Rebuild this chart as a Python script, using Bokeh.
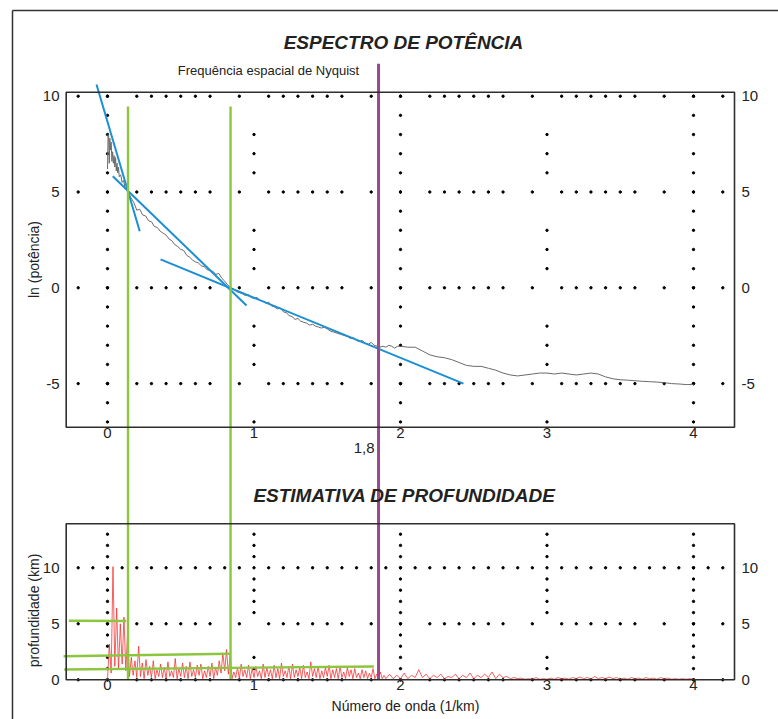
import numpy as np
from bokeh.plotting import figure
from bokeh.models import Range1d
from bokeh.core.properties import value
from bokeh.embed import file_html
from bokeh.resources import INLINE

# ---------------- data ----------------
# power spectrum: wavenumber (1/km) and ln(power)
spec_k_start = [0.0, 0.004, 0.008, 0.012, 0.016, 0.02, 0.025, 0.03, 0.035, 0.04,
                0.045, 0.05, 0.055, 0.06, 0.065, 0.07, 0.075, 0.08, 0.09, 0.10,
                0.11, 0.12, 0.13]
spec_ln_start = [6.2, 8.0, 7.9, 6.5, 7.8, 7.2, 7.6, 6.6, 7.1, 6.5,
                 6.9, 6.3, 6.8, 6.1, 6.5, 6.0, 6.3, 5.8, 5.9, 5.5,
                 5.6, 5.2, 5.2]
# k = 0.14 ... 2.00 every 0.02
spec_ln_mid = [5.00, 4.70, 4.45, 4.05, 4.10, 3.80, 3.75, 3.50, 3.45, 3.20,
               3.15, 2.95, 2.85, 2.75, 2.55, 2.45, 2.25, 2.15, 2.00, 1.95,
               1.70, 1.60, 1.45, 1.35, 1.30, 1.15, 1.10, 0.95, 0.90, 0.85,
               0.70, 0.75, 0.50, 0.35, 0.15, 0.00, -0.05, -0.20, -0.25, -0.30,
               -0.40, -0.35, -0.50, -0.55, -0.50, -0.65, -0.70, -0.80, -0.75, -0.95,
               -1.00, -1.10, -1.05, -1.25, -1.30, -1.45, -1.50, -1.65, -1.60, -1.75,
               -1.80, -1.85, -1.95, -1.90, -2.00, -2.05, -2.10, -2.05, -2.15, -2.25,
               -2.30, -2.35, -2.40, -2.45, -2.50, -2.55, -2.65, -2.60, -2.75, -2.80,
               -2.75, -2.90, -2.95, -2.85, -3.00, -3.05, -3.10, -3.05, -3.10, -3.00,
               -3.05, -3.15, -3.05, -3.05]
# k = 2.05 ... 4.00 every 0.05
spec_ln_end = [-3.10, -3.10, -3.30, -3.50, -3.60, -3.65, -3.75, -3.90, -4.05, -4.10,
               -4.10, -4.20, -4.30, -4.45, -4.55, -4.60, -4.55, -4.50, -4.45, -4.45,
               -4.50, -4.45, -4.50, -4.55, -4.50, -4.45, -4.50, -4.65, -4.75, -4.80,
               -4.82, -4.85, -4.88, -4.90, -4.92, -4.95, -5.00, -5.02, -5.05, -5.05]

# depth estimate (km): k = 0 ... 1.8875 every 0.0125
depth_a = [0.0, 3.2, 0.6, 10.1, 1.2, 6.4, 0.9, 5.0, 1.4, 5.6,
           0.8, 4.2, 0.3, 2.0, 0.4, 1.7, 0.2, 3.0, 0.3, 1.5,
           0.1, 1.8, 0.4, 1.2, 0.2, 1.7, 0.1, 0.9, 0.3, 1.4,
           0.2, 1.1, 0.1, 1.6, 0.3, 0.8, 0.2, 1.9, 0.1, 1.0,
           0.3, 1.5, 0.2, 1.2, 0.1, 1.6, 0.3, 0.9, 0.2, 1.3,
           0.4, 1.4, 0.1, 0.8, 0.2, 1.2, 0.3, 1.5, 0.1, 1.1,
           0.4, 1.7, 0.6, 2.4, 0.8, 2.7, 0.5, 2.3, 0.1, 0.7,
           0.2, 1.1, 0.1, 1.4, 0.3, 0.9, 0.2, 1.3, 0.1, 1.0,
           0.2, 1.2, 0.3, 0.8, 0.1, 1.4, 0.2, 1.1, 0.3, 0.9,
           0.1, 1.3, 0.2, 1.0, 0.1, 1.5, 0.3, 0.8, 0.2, 1.2,
           0.1, 1.4, 0.2, 0.9, 0.3, 1.1, 0.1, 1.3, 0.2, 0.7,
           0.1, 1.6, 0.3, 1.0, 0.2, 1.2, 0.1, 0.8, 0.2, 1.1,
           0.3, 1.3, 0.1, 0.9, 0.2, 1.0, 0.1, 1.2, 0.2, 0.7,
           0.1, 1.1, 0.3, 0.9, 0.1, 1.0, 0.2, 0.6, 0.1, 0.9,
           0.2, 0.8, 0.1, 0.6, 0.2, 1.0, 0.1, 0.5, 0.2, 0.7,
           0.1, 0.4]
# depth estimate (km): k = 1.9 ... 4.0 every 0.025
depth_b = [0.1, 0.5, 0.1, 0.4, 0.1, 0.6, 0.1, 0.4, 0.2, 0.9,
           0.2, 0.5, 0.1, 0.4, 0.2, 0.5, 0.1, 0.3, 0.2, 0.5,
           0.1, 0.4, 0.2, 0.6, 0.1, 0.4, 0.2, 0.5, 0.2, 0.7,
           0.1, 0.5, 0.2, 0.3, 0.1, 0.2, 0.1, 0.15, 0.05, 0.1,
           0.05, 0.2, 0.05, 0.1, 0.05, 0.15, 0.05, 0.2, 0.1, 0.15,
           0.05, 0.2, 0.1, 0.25, 0.1, 0.2, 0.05, 0.3, 0.1, 0.2,
           0.1, 0.25, 0.1, 0.2, 0.05, 0.15, 0.05, 0.2, 0.1, 0.15,
           0.05, 0.2, 0.1, 0.15, 0.05, 0.2, 0.1, 0.15, 0.05, 0.1,
           0.05, 0.1, 0.05, 0.1, 0.05]

# straight-line fits on the spectrum (start / end points)
fit_k0 = [-0.075, 0.036, 0.362]
fit_ln0 = [10.61, 5.82, 1.48]
fit_k1 = [0.22, 0.949, 2.43]
fit_ln1 = [2.95, -0.92, -5.0]

# break points of the fits (green verticals)
cut_k = [0.14, 0.84]
cut_ln_top = 9.46

# estimated depths per segment (green horizontals)
est_k0 = [-0.264, -0.30, -0.295]
est_d0 = [5.27, 2.10, 0.92]
est_k1 = [0.128, 0.835, 1.818]
est_d1 = [5.25, 2.33, 1.19]

nyquist_k = 1.85
nyquist_label = "1,8"
nyquist_top = 11.7

x_ticks = [0, 1, 2, 3, 4]
ln_ticks = [10, 5, 0, -5]
depth_ticks = [10, 5, 0]

title_top = "ESPECTRO DE POTÊNCIA"
title_bottom = "ESTIMATIVA DE PROFUNDIDADE"
nyquist_text = "Frequência espacial de Nyquist"
ylab_top = "ln (potência)"
ylab_bottom = "profundidade (km)"
xlab = "Número de onda (1/km)"

# ---------------- layout (picture pixels -> data) ----------------
W, H, OFF = 778, 719, 0
PX0, PXU = 107.0, 146.5        # picture x of k=0, px per 1/km
PYL0, PYLU = 287.3, 19.16      # picture y of ln=0, px per unit
PYD0, PYDU = 679.3, 11.2       # picture y of depth=0, px per km


def kx(px):
    return (px - PX0) / PXU


def ly(py):
    return (PYL0 - py) / PYLU


def dy(py):
    return (PYD0 - py) / PYDU


def d2l(d):
    return ly(PYD0 - d * PYDU)


FONT = value("Liberation Sans")

p = figure(width=W, height=H, output_backend="svg", toolbar_location=None,
           x_range=Range1d(kx(OFF), kx(OFF + W)),
           y_range=Range1d(ly(OFF + H), ly(OFF)),
           x_axis_type=None, y_axis_type=None, min_border=0,
           outline_line_color=None, background_fill_color="white",
           border_fill_color="white")
p.extra_y_ranges = {"depth": Range1d(dy(OFF + H), dy(OFF))}

# outer border (top and left edges visible)
p.segment(x0=[kx(12), kx(12)], y0=[ly(10), ly(10)],
          x1=[kx(OFF + W + 5), kx(12)], y1=[ly(10), ly(OFF + H + 5)],
          line_color="#333333", line_width=1.5)

# ---- dotted grid (dot pattern of the original dotted lines) ----
row_all = np.round(np.arange(-0.2, 4.21, 0.1), 2)
row_gap = {-0.1, 0.1, 0.8, 1.0, 1.7, 1.9, 2.1, 2.8, 3.0, 3.7, 3.9, 4.1}
row_x = [v for v in row_all if round(float(v), 2) not in row_gap]
gx, gy = [], []
for t in ln_ticks:
    gx += list(row_x)
    gy += [t] * len(row_x)
for t in x_ticks:
    ys = list(range(-7, 11)) if t % 2 == 0 else [8, 7, 6, 3, 2, 1, -2, -3, -4, -7]
    gx += [t] * len(ys)
    gy += ys
p.scatter(gx, gy, size=2.4, color="black", marker="circle")

bx, by = [], []
for t in depth_ticks:
    xs = list(row_all) if t == 10 else list(row_x)
    bx += xs
    by += [t] * len(xs)
for t in x_ticks:
    ys = list(range(0, 14)) if t % 2 == 0 else [13, 12, 11, 9, 8, 7, 6, 2, 1]
    bx += [t] * len(ys)
    by += ys
p.scatter(bx, by, size=2.4, color="black", marker="circle", y_range_name="depth")

# ---- spectrum ----
spec_k = (spec_k_start
          + list(np.round(0.14 + 0.02 * np.arange(len(spec_ln_mid)), 3))
          + list(np.round(2.05 + 0.05 * np.arange(len(spec_ln_end)), 3)))
spec_ln = spec_ln_start + spec_ln_mid + spec_ln_end
p.line(spec_k, spec_ln, line_color="#6a6a6a", line_width=1)

# ---- depth series ----
depth_k = (list(np.round(0.0125 * np.arange(len(depth_a)), 4))
           + list(np.round(1.9 + 0.025 * np.arange(len(depth_b)), 4)))
depth_v = depth_a + depth_b
p.line(depth_k, depth_v, line_color="#f52a2a", line_alpha=0.75, line_width=1,
       y_range_name="depth")

# ---- fits ----
p.segment(x0=fit_k0, y0=fit_ln0, x1=fit_k1, y1=fit_ln1,
          line_color="#1b8fd4", line_width=2)

# ---- green break lines ----
p.segment(x0=cut_k, y0=[cut_ln_top] * len(cut_k), x1=cut_k,
          y1=[d2l(0)] * len(cut_k), line_color="#8cc63e", line_width=2.4)
p.segment(x0=est_k0, y0=est_d0, x1=est_k1, y1=est_d1,
          line_color="#8cc63e", line_width=2.4, y_range_name="depth")

# ---- Nyquist line ----
p.segment(x0=[nyquist_k], y0=[nyquist_top], x1=[nyquist_k], y1=[d2l(0)],
          line_color="#9a4a8c", line_width=3)

# ---- frames ----
p.quad(left=[kx(65.7)], right=[kx(734)], bottom=[ly(426.7)], top=[ly(91.7)],
       fill_color=None, line_color="#2e2e2e", line_width=1.6)
p.quad(left=[kx(65.7)], right=[kx(734)], bottom=[0], top=[dy(523.3)],
       fill_color=None, line_color="#2e2e2e", line_width=1.6,
       y_range_name="depth")

# ---- texts ----
TC = "#222222"
def txt(x, y, s, size="14px", align="center", base="middle", style="normal",
        angle=0, rng="default"):
    p.text(x=x, y=y, text=s, text_font=FONT, text_font_size=value(size),
           text_align=align, text_baseline=base, text_font_style=style,
           text_color=TC, angle=angle, y_range_name=rng)

txt([kx(403)], [ly(42)], [title_top], size="19px", style="bold italic")
txt([kx(404)], [ly(495)], [title_bottom], size="19px", style="bold italic")
txt([kx(268)], [ly(70)], [nyquist_text], size="13px")

lab = [str(t) for t in ln_ticks]
txt([kx(59)] * len(ln_ticks), ln_ticks, lab, size="15px", align="right")
txt([kx(741)] * len(ln_ticks), ln_ticks, lab, size="15px", align="left")
dlab = [str(t) for t in depth_ticks]
txt([kx(59)] * len(depth_ticks), depth_ticks, dlab, size="15px", align="right", rng="depth")
txt([kx(741)] * len(depth_ticks), depth_ticks, dlab, size="15px", align="left", rng="depth")

xlab_s = [str(t) for t in x_ticks]
txt(x_ticks, [ly(427)] * len(x_ticks), xlab_s, size="15px", base="top")
txt(x_ticks, [dy(679)] * len(x_ticks), xlab_s, size="15px", base="top", rng="depth")
txt([kx(374)], [ly(447)], [nyquist_label], size="15px", align="right")

txt([kx(33)], [ly(259)], [ylab_top], angle=np.pi / 2)
txt([kx(33)], [dy(610)], [ylab_bottom], angle=np.pi / 2, rng="depth")
txt([kx(405)], [ly(705)], [xlab])

open("out.html", "w").write(file_html(p, INLINE))
